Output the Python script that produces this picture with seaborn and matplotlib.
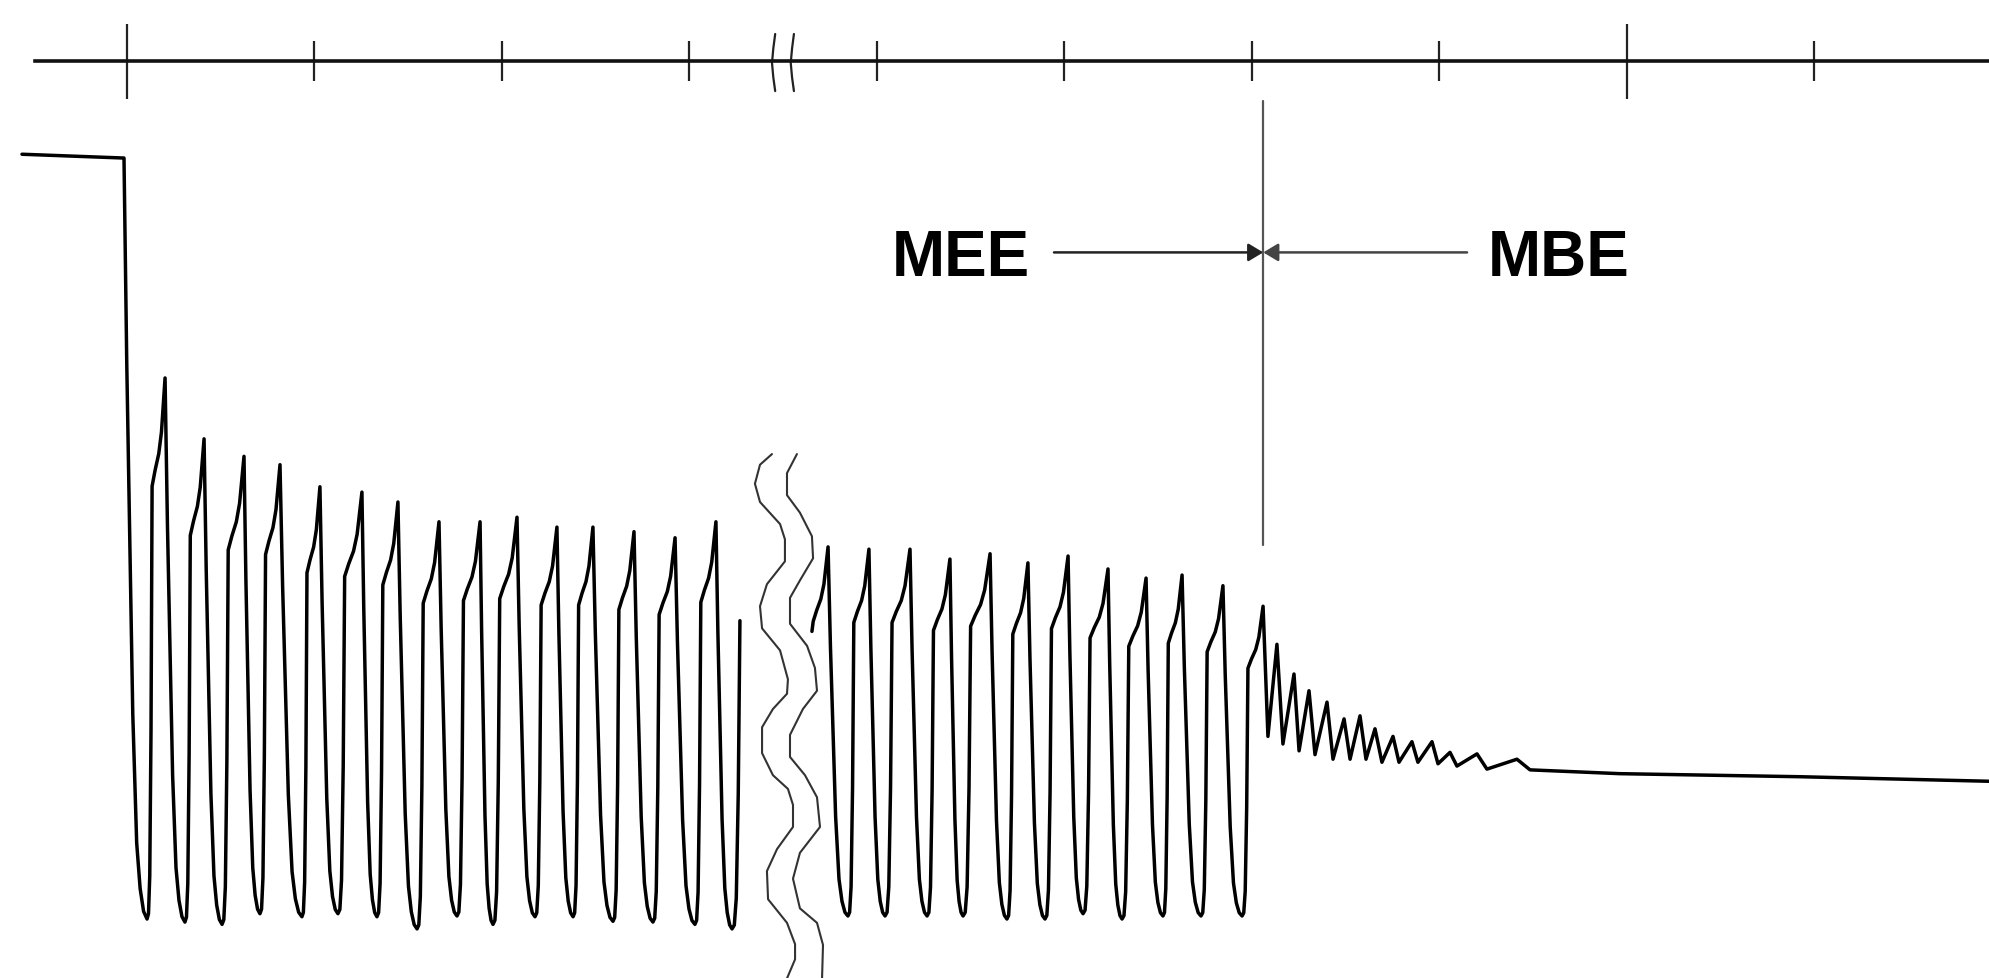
"""
Muscle force trace with a time marker bar above it: repetitive stimulation,
a break in the record, then the end of stimulation (MEE / MBE marker).
Units: time in marker ticks (10 per tick), force in % of the resting level
(trough of each twitch = 0).
"""

import pandas as pd
import seaborn as sns
import matplotlib.pyplot as plt
from matplotlib.ticker import FixedLocator

sns.set_style("white")
plt.rcParams["font.family"] = ["Liberation Sans", "DejaVu Sans"]

# ---- data ----
rest_t = [-5.6, -0.16]
rest_f = [100.5, 100.0]

left_peak_t = [2.03, 4.11, 6.24, 8.16, 10.29, 12.53, 14.45, 16.64, 18.83, 20.80,
               22.93, 24.85, 27.04, 29.23, 31.41]
left_peak_f = [71.1, 63.1, 60.8, 59.7, 56.8, 56.1, 54.8, 52.2, 52.2, 52.8,
               51.5, 51.5, 50.9, 50.1, 52.2]
left_trough_t = [1.07, 3.09, 5.07, 7.09, 9.33, 11.25, 13.33, 15.47, 17.60, 19.52,
                 21.76, 23.79, 25.92, 28.05, 30.29, 32.27]
left_trough_f = [0.0, -0.4, -0.7, 0.7, 0.3, 0.7, 0.3, -1.3, 0.4, -0.7,
                 0.3, 0.3, -0.3, -0.4, -0.7, -1.3]
left_end_t, left_end_f = 32.69, 39.2

right_start_t, right_start_f = 36.53, 37.8
right_peak_t = [37.39, 39.57, 41.76, 43.89, 46.03, 48.05, 50.19, 52.32, 54.35, 56.27,
                58.45, 60.59]
right_peak_f = [48.9, 48.6, 48.6, 47.3, 48.0, 46.8, 47.7, 46.0, 44.8, 45.2, 43.8, 41.1]
right_trough_t = [38.45, 40.43, 42.67, 44.59, 46.93, 48.96, 50.99, 53.07, 55.25, 57.28,
                  59.47]
right_trough_f = [0.4, 0.4, 0.4, 0.4, 0.0, 0.0, 0.7, 0.0, 0.4, 0.4, 0.4]

# damped ripple after the last stimulus, then the slow relaxation
tail_t = [60.85, 61.33, 61.65, 62.24, 62.51, 63.04, 63.36, 64.00, 64.32, 64.91,
          65.23, 65.76, 66.08, 66.56, 66.93, 67.52, 67.84, 68.53, 68.85, 69.60,
          69.92, 70.56, 70.93, 72.00, 72.53, 74.13, 74.83, 79.63, 89.23, 99.36]
tail_f = [24.0, 36.1, 23.0, 32.2, 22.1, 30.0, 21.6, 28.5, 21.0, 26.3,
          21.0, 26.7, 21.0, 25.0, 20.6, 24.0, 20.6, 23.3, 20.6, 23.3,
          20.4, 21.9, 20.1, 21.7, 19.7, 21.0, 19.6, 19.1, 18.7, 18.1]

# time marker bar
marker_level = 112.7
marker_long = [0, 80]
marker_short = [10, 20, 30, 40, 50, 60, 70, 90]
marker_break_t = [34.4, 35.4]

# wavy break lines through the trace
wave1_t = [34.40, 33.76, 33.49, 33.76, 34.83, 35.09, 35.09, 34.13, 33.76, 33.87,
           34.83, 35.25, 35.20, 34.45, 33.87, 33.87, 34.45, 35.25, 35.52, 35.52,
           34.67, 34.13, 34.19, 35.20, 35.63, 35.63, 35.20]
wave1_f = [61.1, 59.7, 57.2, 54.8, 51.9, 49.9, 47.0, 44.0, 41.1, 38.2,
           35.3, 31.5, 29.6, 27.6, 25.2, 21.8, 18.9, 17.1, 15.0, 12.1,
           9.2, 6.3, 2.6, -0.5, -3.3, -5.3, -7.8]
wave2_t = [35.73, 35.20, 35.20, 35.89, 36.53, 36.59, 35.89, 35.36, 35.36, 36.27,
           36.69, 36.80, 36.05, 35.36, 35.36, 36.16, 36.80, 36.96, 35.89, 35.52,
           35.89, 36.80, 37.12, 37.07]
wave2_f = [61.1, 58.6, 55.7, 53.4, 50.3, 47.4, 44.5, 42.2, 38.8, 35.9,
           33.0, 30.0, 27.6, 24.2, 21.3, 18.9, 16.0, 12.1, 8.7, 5.3,
           1.4, -0.5, -3.4, -7.8]

stim_end_t = 60.6
stim_line_f = [107.5, 49.1]
label_f = 87.6
mee_from_t, mbe_from_t = 49.44, 71.47

# shape of one twitch edge: (fraction of width, fraction of height)
RISE = [(0.0, 0.0), (0.08, 0.01), (0.15, 0.08), (0.22, 0.35), (0.28, 0.80),
        (0.45, 0.83), (0.65, 0.86), (0.80, 0.90), (1.0, 1.0)]
FALL = [(0.0, 1.0), (0.12, 0.73), (0.25, 0.50), (0.38, 0.27), (0.55, 0.10),
        (0.70, 0.04), (0.85, 0.01), (1.0, 0.0)]


def rise(t0, f0, t1, f1):
    return [(t0 + u * (t1 - t0), f0 + v * (f1 - f0)) for u, v in RISE[1:]]


def fall(t0, f0, t1, f1):
    return [(t0 + u * (t1 - t0), f1 + v * (f0 - f1)) for u, v in FALL[1:]]


def build_left():
    pts = list(zip(rest_t, rest_f))
    pts += fall(rest_t[-1], rest_f[-1], left_trough_t[0], left_trough_f[0])
    for i in range(len(left_peak_t)):
        pts += rise(left_trough_t[i], left_trough_f[i], left_peak_t[i], left_peak_f[i])
        pts += fall(left_peak_t[i], left_peak_f[i], left_trough_t[i + 1], left_trough_f[i + 1])
    # last stroke is cut by the break
    t0, f0 = left_trough_t[-1], left_trough_f[-1]
    w = (left_end_t - t0) / 0.28
    a = (left_end_f - f0) / 0.80
    pts += [(t0 + u * w, f0 + v * a) for u, v in RISE[1:] if u < 0.28]
    pts.append((left_end_t, left_end_f))
    return pts


def build_right():
    pts = [(right_start_t, right_start_f)]
    p_t, p_f = right_peak_t[0], right_peak_f[0]
    t0 = p_t - 1.1
    pts += [(t0 + u * 1.1, v * p_f) for u, v in RISE if v * p_f > right_start_f]
    for i in range(len(right_trough_t)):
        pts += fall(right_peak_t[i], right_peak_f[i], right_trough_t[i], right_trough_f[i])
        pts += rise(right_trough_t[i], right_trough_f[i], right_peak_t[i + 1], right_peak_f[i + 1])
    pts += list(zip(tail_t, tail_f))
    return pts


rows = []
for seg, pts in (("before", build_left()), ("after", build_right())):
    for t, f in pts:
        rows.append({"t": t, "force": f, "seg": seg})
trace = pd.DataFrame(rows)

fig = plt.figure(figsize=(19.9, 9.79), dpi=100)
ax = fig.add_axes([0, 0, 1, 1])

sns.lineplot(data=trace, x="t", y="force", units="seg", estimator=None, sort=False,
             color="black", linewidth=2.5, legend=False, ax=ax)

# break through the trace
ax.plot(wave1_t, wave1_f, color="#333333", lw=1.5, solid_joinstyle="round")
ax.plot(wave2_t, wave2_f, color="#333333", lw=1.5, solid_joinstyle="round")

# time marker bar as the x axis
ax.set_xlim(-6.773, 99.36)
ax.set_ylim(-7.75, 120.9)
for side in ("top", "left", "right"):
    ax.spines[side].set_visible(False)
ax.spines["bottom"].set_position(("data", marker_level))
ax.spines["bottom"].set_bounds(-4.9, 99.36)
ax.spines["bottom"].set_linewidth(2.6)
ax.spines["bottom"].set_color("#111111")
ax.xaxis.set_major_locator(FixedLocator(marker_long))
ax.xaxis.set_minor_locator(FixedLocator(marker_short))
ax.tick_params(axis="x", which="major", bottom=True, direction="inout", length=54,
               width=1.6, color="#222222", labelbottom=False)
ax.tick_params(axis="x", which="minor", bottom=True, direction="inout", length=29,
               width=1.6, color="#222222")
ax.set_yticks([])
ax.set_xlabel("")
ax.set_ylabel("")

bow = [0.17, 0.07, 0.0, 0.07, 0.17]
bow_f = [116.3, 114.4, 112.5, 110.6, 108.8]
for bt in marker_break_t:
    ax.plot([bt + b for b in bow], bow_f, color="#222222", lw=1.6)

# end of stimulation marker
ax.plot([stim_end_t, stim_end_t], stim_line_f, color="#555555", lw=1.6)
head = "-|>,head_length=0.5,head_width=0.3"
ax.annotate("", xy=(stim_end_t, label_f), xytext=(mee_from_t, label_f),
            arrowprops=dict(arrowstyle=head, color="#222222", lw=1.8,
                            mutation_scale=18, shrinkA=0, shrinkB=0))
ax.annotate("", xy=(stim_end_t, label_f), xytext=(mbe_from_t, label_f),
            arrowprops=dict(arrowstyle=head, color="#444444", lw=1.8,
                            mutation_scale=18, shrinkA=0, shrinkB=0))
ax.text(40.8, 84.6, "MEE", ha="left", va="baseline", fontsize=46, fontweight="bold",
        color="black")
ax.text(72.6, 84.6, "MBE", ha="left", va="baseline", fontsize=46, fontweight="bold",
        color="black")

fig.savefig("out.png", dpi=100, facecolor="white")
